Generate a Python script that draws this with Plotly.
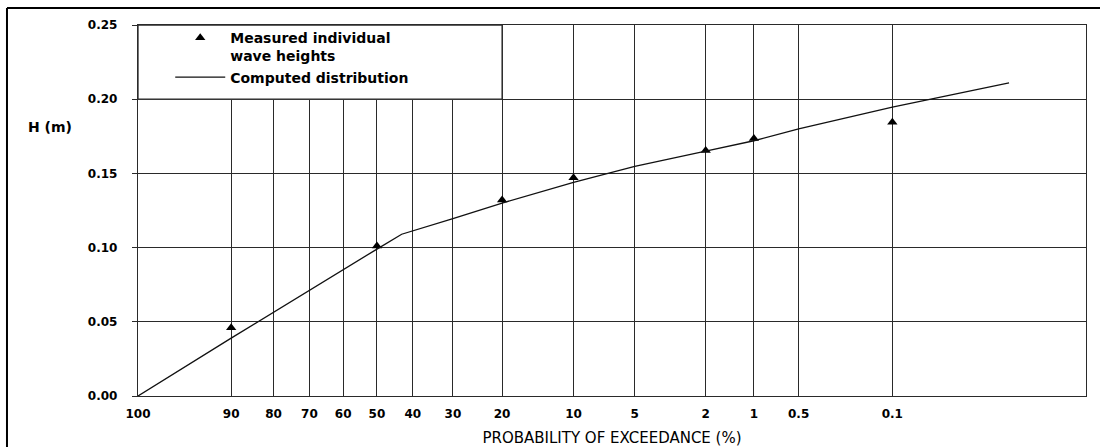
import numpy as np
import plotly.graph_objects as go

# ---- data ----
tick_probs = [100, 90, 80, 70, 60, 50, 40, 30, 20, 10, 5, 2, 1, 0.5, 0.1]
tick_labels = ["100", "90", "80", "70", "60", "50", "40", "30", "20", "10", "5", "2", "1", "0.5", "0.1"]

measured_p = [90, 50, 20, 10, 2, 1, 0.1]
measured_h = [0.046, 0.101, 0.132, 0.147, 0.1655, 0.1735, 0.1845]

computed_p = [100, 90, 50, 43, 30, 20, 10, 5, 2, 1, 0.5, 0.1, 0.01]
computed_h = [0.0, 0.039, 0.099, 0.109, 0.1196, 0.130, 0.144, 0.1547, 0.165, 0.172, 0.180, 0.1946, 0.211]

y_ticks = [0.0, 0.05, 0.10, 0.15, 0.20, 0.25]


def rayleigh(p):
    """Rayleigh probability-paper coordinate for exceedance probability p (%)."""
    p = np.asarray(p, dtype=float)
    return np.sqrt(-np.log(p / 100.0))


X_MAX = 3.303
GRID = "#2a2a2a"
FONT = "DejaVu Sans"

fig = go.Figure()

fig.add_trace(go.Scatter(
    x=rayleigh(measured_p), y=measured_h, mode="markers",
    name="<b>Measured individual<br>wave heights</b>",
    marker=dict(symbol="triangle-up", size=9, color="black"),
))
fig.add_trace(go.Scatter(
    x=rayleigh(computed_p), y=computed_h, mode="lines",
    name="<b>Computed distribution</b>",
    line=dict(color="#111", width=1.3),
))

# legend box (covers grid above 0.20 up to the 20 % line)
fig.add_shape(type="rect", xref="x", yref="y",
              x0=0, x1=float(rayleigh(20)), y0=0.20, y1=0.25,
              fillcolor="white", line=dict(color=GRID, width=1.3), layer="above")

# page frame (top and left rules)
fig.add_shape(type="line", xref="paper", yref="paper",
              x0=-0.1382, x1=1.02, y0=1.0458, y1=1.0458,
              line=dict(color="black", width=2))
fig.add_shape(type="line", xref="paper", yref="paper",
              x0=-0.1382, x1=-0.1382, y0=1.0458, y1=-0.14,
              line=dict(color="black", width=2))

fig.add_annotation(text="<b>H (m)</b>", xref="paper", yref="y",
                   x=-0.0678, y=0.181, xanchor="right", yanchor="middle",
                   showarrow=False, font=dict(family=FONT, size=14, color="black"))

fig.update_layout(
    width=1100, height=447,
    margin=dict(l=138, r=14, t=25, b=51),
    paper_bgcolor="white", plot_bgcolor="white",
    font=dict(family=FONT, color="black"),
    showlegend=True,
    legend=dict(x=0.034, y=1.008, xanchor="left", yanchor="top",
                bgcolor="rgba(0,0,0,0)", borderwidth=0,
                font=dict(family=FONT, size=14, color="black"),
                itemwidth=50, valign="top", tracegroupgap=0),
    xaxis=dict(
        range=[0, X_MAX], tickmode="array", automargin=False,
        tickvals=rayleigh(tick_probs), ticktext=[f"<b>{t}</b>" for t in tick_labels],
        showgrid=True, gridcolor=GRID, gridwidth=1.3,
        zeroline=False, showline=True, linecolor=GRID, linewidth=1.3, mirror=True,
        ticks="", ticklabelstandoff=6,
        tickfont=dict(family=FONT, size=12, color="black"),
        title=dict(text="PROBABILITY OF EXCEEDANCE (%)", standoff=13,
                   font=dict(family=FONT, size=15, color="black")),
    ),
    yaxis=dict(
        range=[0, 0.25], tickmode="array", tickvals=y_ticks, automargin=False,
        ticktext=[f"<b>{v:.2f}</b>" for v in y_ticks],
        showgrid=True, gridcolor=GRID, gridwidth=1.3,
        zeroline=False, showline=True, linecolor=GRID, linewidth=1.3, mirror=True,
        ticks="outside", ticklen=5, tickcolor=GRID, tickwidth=1.3,
        ticklabelstandoff=12,
        tickfont=dict(family=FONT, size=12, color="black"),
    ),
)

fig.write_html("out.html")
